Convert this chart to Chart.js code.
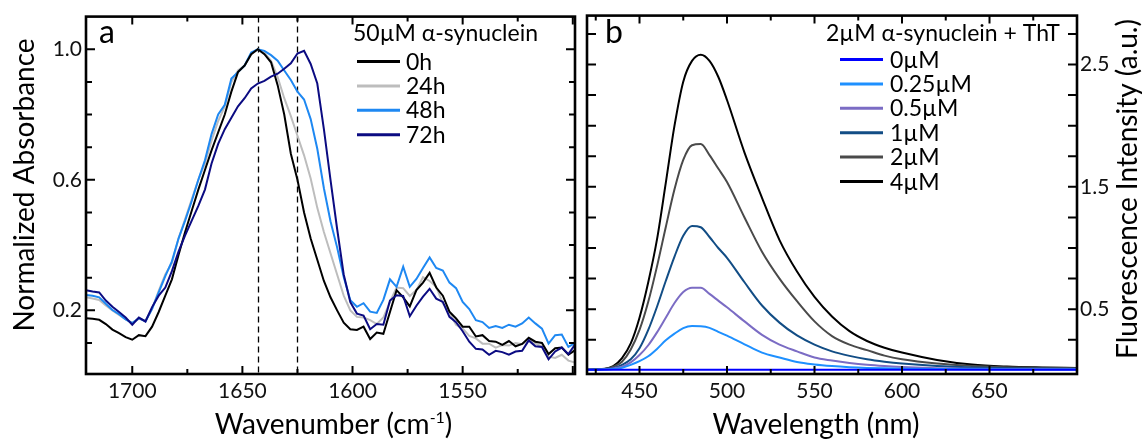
<!DOCTYPE html>
<html>
<head>
<meta charset="utf-8">
<script src="https://cdn.jsdelivr.net/npm/chart.js@4.4.0/dist/chart.umd.min.js"></script>
<style>
  html, body { margin: 0; padding: 0; background: #fff; }
  #wrap { position: relative; width: 1148px; height: 439px; overflow: hidden; }
  .panel { position: absolute; top: 0; height: 439px; }
  #panelA { left: 0; width: 580px; }
  #panelB { left: 580px; width: 568px; }
</style>
</head>
<body>
<div id="wrap">
  <div class="panel" id="panelA"><canvas id="absChart"></canvas></div>
  <div class="panel" id="panelB"><canvas id="fluoChart"></canvas></div>
</div>
<script>
// ---- panel a : FTIR amide I, normalized absorbance ----
const wavenumbers = [1721,1718,1715,1712,1709,1706,1703,1700,1697,1694,
  1691,1688,1685,1682,1679,1676,1673,1670,1667,1664,
  1661,1658,1655,1652,1649,1646,1643,1640,1637,1634,
  1631,1628,1625,1622,1619,1616,1613,1610,1607,1604,
  1601,1598,1595,1592,1589,1586,1583,1580,1577,1574,
  1571,1568,1565,1562,1559,1556,1553,1550,1547,1544,
  1541,1538,1535,1532,1529,1526,1523,1520,1517,1514,
  1511,1508,1505,1502,1499];
const abs0h = [0.176,0.174,0.171,0.158,0.141,0.130,0.118,0.110,0.124,0.121,
  0.150,0.195,0.245,0.295,0.370,0.440,0.505,0.570,0.630,0.690,
  0.745,0.800,0.870,0.930,0.950,0.985,1.000,0.985,0.960,0.890,
  0.800,0.680,0.600,0.500,0.420,0.355,0.290,0.240,0.200,0.162,
  0.142,0.140,0.150,0.112,0.132,0.128,0.195,0.262,0.240,0.212,
  0.262,0.285,0.315,0.270,0.245,0.196,0.175,0.150,0.150,0.120,
  0.124,0.106,0.104,0.094,0.106,0.090,0.097,0.116,0.104,0.100,
  0.066,0.084,0.086,0.064,0.078];
const abs24h = [0.240,0.236,0.232,0.215,0.200,0.186,0.172,0.162,0.174,0.168,
  0.205,0.260,0.310,0.345,0.420,0.480,0.540,0.600,0.650,0.720,
  0.780,0.825,0.900,0.935,0.950,0.985,1.000,0.990,0.965,0.915,
  0.850,0.795,0.735,0.675,0.604,0.514,0.440,0.375,0.310,0.245,
  0.200,0.180,0.178,0.170,0.158,0.178,0.226,0.270,0.268,0.244,
  0.262,0.302,0.290,0.272,0.222,0.194,0.156,0.144,0.122,0.114,
  0.098,0.098,0.086,0.094,0.092,0.100,0.096,0.110,0.098,0.090,
  0.058,0.054,0.064,0.046,0.040];
const abs48h = [0.247,0.245,0.240,0.220,0.201,0.188,0.172,0.161,0.176,0.166,
  0.205,0.255,0.305,0.350,0.420,0.475,0.535,0.600,0.660,0.740,
  0.800,0.830,0.910,0.930,0.950,0.990,1.000,0.995,0.982,0.965,
  0.935,0.906,0.870,0.846,0.786,0.695,0.574,0.473,0.393,0.302,
  0.231,0.211,0.222,0.196,0.192,0.232,0.295,0.272,0.334,0.272,
  0.296,0.330,0.362,0.330,0.322,0.285,0.268,0.226,0.204,0.170,
  0.164,0.146,0.152,0.146,0.156,0.150,0.160,0.178,0.160,0.144,
  0.098,0.124,0.126,0.088,0.100];
const abs72h = [0.262,0.258,0.255,0.230,0.211,0.195,0.178,0.156,0.178,0.166,
  0.210,0.245,0.270,0.320,0.380,0.430,0.475,0.520,0.570,0.650,
  0.710,0.755,0.790,0.825,0.850,0.880,0.895,0.903,0.916,0.925,
  0.940,0.957,0.987,0.995,0.955,0.895,0.755,0.600,0.450,0.310,
  0.225,0.190,0.184,0.142,0.158,0.156,0.230,0.246,0.244,0.182,
  0.214,0.242,0.266,0.236,0.226,0.180,0.164,0.136,0.104,0.082,
  0.080,0.064,0.076,0.072,0.064,0.074,0.076,0.108,0.090,0.088,
  0.050,0.074,0.086,0.066,0.095];
const absLabels = ['0h', '24h', '48h', '72h'];
const absMarkers = [1643, 1625];
const absXTicks = [1500,1525,1550,1575,1600,1625,1650,1675,1700];
const absXLabels = [1550,1600,1650,1700];
const absYTicks = [0.1,0.2,0.3,0.4,0.5,0.6,0.7,0.8,0.9,1.0];
const absYLabels = [0.2,0.6,1.0];

// ---- panel b : ThT fluorescence ----
const wavelengths = [420,425,430,435,440,445,450,455,460,465,470,475,480,485,490,495,
  500,510,520,530,540,550,560,570,580,590,600,620,640,660,680,700];
const fluo0 = [0.004,0.004,0.004,0.004,0.004,0.004,0.004,0.004,0.005,0.005,0.005,0.005,0.005,0.005,0.005,0.005,
  0.005,0.004,0.004,0.004,0.004,0.004,0.004,0.004,0.004,0.004,0.004,0.004,0.004,0.004,0.004,0.004];
const fluo025 = [0.004,0.005,0.007,0.010,0.020,0.045,0.075,0.115,0.175,0.245,0.300,0.345,0.362,0.360,0.347,0.315,
  0.283,0.213,0.145,0.105,0.068,0.048,0.035,0.026,0.020,0.016,0.013,0.010,0.008,0.007,0.007,0.006];
const fluo05 = [0.004,0.005,0.008,0.015,0.030,0.065,0.125,0.205,0.310,0.430,0.550,0.640,0.675,0.675,0.625,0.570,
  0.515,0.400,0.290,0.210,0.155,0.105,0.080,0.060,0.045,0.035,0.028,0.018,0.013,0.011,0.010,0.009];
const fluo1 = [0.004,0.006,0.010,0.020,0.045,0.090,0.180,0.330,0.520,0.730,0.930,1.100,1.180,1.170,1.090,1.000,
  0.920,0.720,0.530,0.390,0.285,0.210,0.155,0.118,0.090,0.070,0.055,0.035,0.024,0.018,0.015,0.013];
const fluo2 = [0.005,0.008,0.012,0.030,0.070,0.170,0.330,0.560,0.850,1.170,1.480,1.720,1.840,1.850,1.760,1.650,
  1.540,1.250,0.970,0.750,0.565,0.400,0.280,0.210,0.165,0.120,0.090,0.055,0.036,0.026,0.021,0.018];
const fluo4 = [0.005,0.008,0.012,0.035,0.100,0.220,0.430,0.720,1.070,1.530,2.000,2.360,2.530,2.580,2.530,2.400,
  2.210,1.780,1.410,1.065,0.808,0.600,0.440,0.320,0.240,0.185,0.145,0.085,0.047,0.031,0.024,0.020];
const fluoLabels = ['0\u00b5M', '0.25\u00b5M', '0.5\u00b5M', '1\u00b5M', '2\u00b5M', '4\u00b5M'];
const fluoXTicks = [425,450,475,500,525,550,575,600,625,650,675,700];
const fluoXLabels = [450,500,550,600,650];
const fluoYTicks = [0.25,0.5,0.75,1.0,1.25,1.5,1.75,2.0,2.25,2.5,2.75];
const fluoYLabels = [0.5,1.5,2.5];

const FONT = 'Lato, "Noto Sans", sans-serif';
const tickFont = { family: FONT, size: 21 };

function pts(xs, ys) {
    return xs.map((x, i) => ({ x, y: ys[i] }));
}

// inward ticks on all four sides + heavy frame, dashed markers
const frameTicks = {
    id: 'frameTicks',
    beforeDatasetsDraw(chart, args, opts) {
        const { ctx, chartArea: { top, bottom }, scales: { x } } = chart;
        if (!opts.markers) return;
        ctx.save();
        ctx.strokeStyle = '#000';
        ctx.lineWidth = 1.3;
        ctx.setLineDash([6, 4]);
        opts.markers.forEach(v => {
            const px = Math.round(x.getPixelForValue(v)) + 0.5;
            ctx.beginPath();
            ctx.moveTo(px, top);
            ctx.lineTo(px, bottom);
            ctx.stroke();
        });
        ctx.restore();
    },
    afterDatasetsDraw(chart, args, opts) {
        const { ctx, chartArea: { left, right, top, bottom }, scales: { x, y } } = chart;
        ctx.save();
        ctx.strokeStyle = '#000';
        ctx.lineWidth = 2;
        ctx.beginPath();
        opts.xTicks.forEach(v => {
            const px = x.getPixelForValue(v);
            const len = opts.xMajor.includes(v) ? 8 : 5;
            ctx.moveTo(px, bottom); ctx.lineTo(px, bottom - len);
            ctx.moveTo(px, top); ctx.lineTo(px, top + len);
        });
        opts.yTicks.forEach(v => {
            const py = y.getPixelForValue(v);
            const len = opts.yMajor.includes(v) ? 9 : 6;
            ctx.moveTo(left, py); ctx.lineTo(left + len, py);
            ctx.moveTo(right, py); ctx.lineTo(right - len, py);
        });
        ctx.stroke();
        ctx.lineWidth = 2.6;
        ctx.strokeRect(left, top, right - left, bottom - top);
        ctx.restore();
    }
};

// panel letter, axis titles and the legend box
const labelsPlugin = {
    id: 'panelText',
    afterDraw(chart, args, opts) {
        const { ctx, chartArea: { left, right, top, bottom } } = chart;
        ctx.save();
        ctx.fillStyle = '#000';
        ctx.textBaseline = 'alphabetic';

        ctx.font = '32px ' + FONT;
        ctx.textAlign = 'left';
        ctx.fillText(opts.letter, opts.letterX, 43);

        // x title (with optional superscript)
        const big = opts.titleSize + 'px ' + FONT, small = '16px ' + FONT;
        ctx.font = big;
        const wMain = ctx.measureText(opts.xTitle).width;
        let wSup = 0, wTail = 0;
        if (opts.xSup) {
            ctx.font = small; wSup = ctx.measureText(opts.xSup).width;
            ctx.font = big; wTail = ctx.measureText(opts.xTail).width;
        }
        let cx = (left + right) / 2 + opts.xTitleShift - (wMain + wSup + wTail) / 2;
        const base = 434;
        ctx.fillText(opts.xTitle, cx, base);
        if (opts.xSup) {
            ctx.font = small; ctx.fillText(opts.xSup, cx + wMain, base - 11);
            ctx.font = big; ctx.fillText(opts.xTail, cx + wMain + wSup, base);
        }

        // y title, rotated, reading bottom to top
        ctx.font = opts.yTitleSize + 'px ' + FONT;
        ctx.textAlign = 'center';
        ctx.translate(opts.yTitleX, opts.yTitleY);
        ctx.rotate(-Math.PI / 2);
        ctx.fillText(opts.yTitle, 0, 10);
        ctx.setTransform(1, 0, 0, 1, 0, 0);
        ctx.restore();

        // legend
        const lg = opts.legend;
        ctx.save();
        ctx.font = '23px ' + FONT;
        ctx.fillStyle = '#000';
        ctx.textAlign = 'left';
        ctx.fillText(lg.title, lg.titleX, 41);
        chart.data.datasets.forEach((ds, i) => {
            const ly = lg.firstY + i * lg.step;
            ctx.strokeStyle = ds.borderColor;
            ctx.lineWidth = 3;
            ctx.beginPath();
            ctx.moveTo(lg.lineX0, ly);
            ctx.lineTo(lg.lineX1, ly);
            ctx.stroke();
            ctx.fillText(ds.label, lg.textX, ly + 8);
        });
        ctx.restore();
    }
};

function axisBase(min, max, ticksArr, labelArr, fmt, pad) {
    return {
        type: 'linear',
        min, max,
        afterBuildTicks: s => { s.ticks = ticksArr.map(v => ({ value: v })); },
        ticks: {
            autoSkip: false,
            maxRotation: 0,
            padding: pad,
            color: '#111',
            font: tickFont,
            callback: v => labelArr.includes(v) ? fmt(v) : ''
        },
        grid: { display: false, drawTicks: false },
        border: { display: false }
    };
}

document.addEventListener('DOMContentLoaded', () => {
    Chart.defaults.font.family = FONT;

    // panel a
    const absColors = ['#000000', '#bdbdbd', '#1e88f2', '#0b0b82'];
    const absOrder = [1, 3, 2, 0];
    const absSeries = [abs0h, abs24h, abs48h, abs72h];
    const xA = axisBase(1499, 1721, absXTicks, absXLabels, v => String(v), 5);
    xA.reverse = true;
    xA.afterFit = s => { s.height = 65; };
    const yA = axisBase(0.005, 1.1, absYTicks, absYLabels, v => v.toFixed(1), 4);
    yA.afterFit = s => { s.width = 86; };

    new Chart(document.getElementById('absChart'), {
        type: 'line',
        data: {
            datasets: absSeries.map((vals, i) => ({
                label: absLabels[i],
                data: pts(wavenumbers, vals),
                borderColor: absColors[i],
                borderWidth: 2,
                pointRadius: 0,
                tension: 0,
                order: absOrder[i]
            }))
        },
        options: {
            responsive: true,
            maintainAspectRatio: false,
            animation: false,
            layout: { padding: { top: 12, right: 5, left: 0, bottom: 0 } },
            scales: { x: xA, y: yA },
            plugins: {
                legend: { display: false },
                tooltip: { enabled: false },
                frameTicks: {
                    markers: absMarkers,
                    xTicks: absXTicks, xMajor: absXLabels.concat([1500]),
                    yTicks: absYTicks, yMajor: absYLabels
                },
                panelText: {
                    letter: 'a', letterX: 99,
                    titleSize: 28, xTitleShift: 3,
                    xTitle: 'Wavenumber (cm', xSup: '-1', xTail: ')',
                    yTitle: 'Normalized Absorbance', yTitleX: 24, yTitleY: 185, yTitleSize: 28,
                    legend: {
                        title: '50\u00b5M \u03b1-synuclein', titleX: 353,
                        firstY: 61.5, step: 24.4, lineX0: 357, lineX1: 400, textX: 406
                    }
                }
            }
        },
        plugins: [frameTicks, labelsPlugin]
    });

    // panel b
    const fluoColors = ['#0000ff', '#1e90ff', '#7b6cc4', '#124d85', '#4a4a4a', '#000000'];
    const fluoSeries = [fluo0, fluo025, fluo05, fluo1, fluo2, fluo4];
    const xB = axisBase(420, 700, fluoXTicks, fluoXLabels, v => String(v), 5);
    xB.afterFit = s => { s.height = 65; };
    const yB = axisBase(-0.03, 2.9, fluoYTicks, fluoYLabels, v => v.toFixed(1), 3);
    yB.position = 'right';
    yB.afterFit = s => { s.width = 71; };

    new Chart(document.getElementById('fluoChart'), {
        type: 'line',
        data: {
            datasets: fluoSeries.map((vals, i) => ({
                label: fluoLabels[i],
                data: pts(wavelengths, vals),
                borderColor: fluoColors[i],
                borderWidth: 2,
                pointRadius: 0,
                cubicInterpolationMode: 'monotone'
            }))
        },
        options: {
            responsive: true,
            maintainAspectRatio: false,
            animation: false,
            layout: { padding: { top: 12, right: 0, left: 7, bottom: 0 } },
            scales: { x: xB, y: yB },
            plugins: {
                legend: { display: false },
                tooltip: { enabled: false },
                frameTicks: {
                    xTicks: fluoXTicks, xMajor: fluoXLabels,
                    yTicks: fluoYTicks, yMajor: fluoYTicks
                },
                panelText: {
                    letter: 'b', letterX: 25,
                    titleSize: 28, xTitleShift: -16,
                    xTitle: 'Wavelength (nm)',
                    yTitle: 'Fluorescence Intensity (a.u.)', yTitleX: 547, yTitleY: 189, yTitleSize: 28,
                    legend: {
                        title: '2\u00b5M \u03b1-synuclein + ThT', titleX: 246,
                        firstY: 59.5, step: 24.4, lineX0: 260, lineX1: 303, textX: 310
                    }
                }
            }
        },
        plugins: [frameTicks, labelsPlugin]
    });
});
</script>
</body>
</html>
